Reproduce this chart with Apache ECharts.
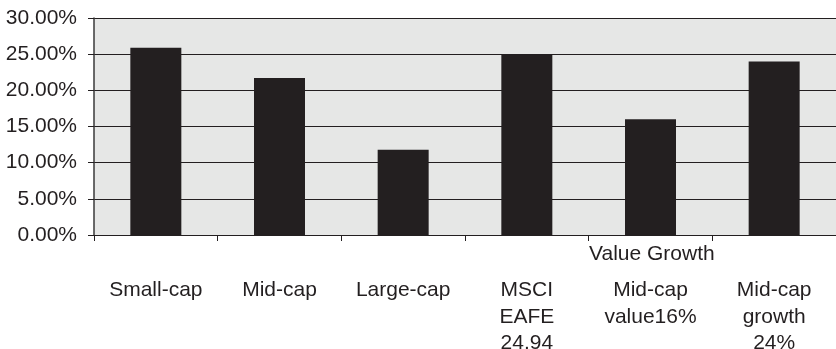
<!DOCTYPE html>
<html>
<head>
<meta charset="utf-8">
<script src="https://cdn.jsdelivr.net/npm/echarts@6/dist/echarts.min.js"></script>
<style>
  html, body { margin: 0; padding: 0; background: #fff; }
  #chart-container { width: 836px; height: 349px; }
</style>
</head>
<body>
<div id="chart-container"></div>
<script>
var categories = ['Small-cap', 'Mid-cap', 'Large-cap', 'MSCI\nEAFE\n24.94', 'Mid-cap\nvalue16%', 'Mid-cap\ngrowth\n24%'];
var returns = [25.9, 21.7, 11.8, 24.94, 16.0, 24.0];
var yTicks = [0, 5, 10, 15, 20, 25, 30];
var groupLabel = 'Value Growth';

var dom = document.getElementById('chart-container');
var myChart = echarts.init(dom, null, { renderer: 'canvas' });

var fontName = '"Liberation Sans", Arial, Helvetica, sans-serif';
var option;

option = {
    animation: false,
    backgroundColor: '#ffffff',
    textStyle: { fontFamily: fontName },
    grid: {
        left: 94,
        right: 0,
        top: 18,
        bottom: 114,
        containLabel: false,
        outerBoundsMode: 'none',
        show: true,
        backgroundColor: '#e6e7e6',
        borderWidth: 0
    },
    xAxis: {
        type: 'category',
        data: categories,
        axisLine: { show: true, lineStyle: { color: '#231f20', width: 1.2 } },
        axisTick: { show: true, length: 6, lineStyle: { color: '#231f20', width: 1 } },
        axisLabel: {
            interval: 0,
            margin: 42,
            fontSize: 21,
            lineHeight: 26.5,
            color: '#231f20',
            fontFamily: fontName
        }
    },
    yAxis: {
        type: 'value',
        min: yTicks[0],
        max: yTicks[yTicks.length - 1],
        interval: 5,
        axisLine: { show: true, lineStyle: { color: '#3a3a3a', width: 1.5 } },
        axisTick: { show: true, length: 6, lineStyle: { color: '#231f20', width: 1 } },
        splitLine: { show: true, lineStyle: { color: '#231f20', width: 1.2 } },
        axisLabel: {
            margin: 17,
            fontSize: 21,
            color: '#231f20',
            fontFamily: fontName,
            formatter: function (value) {
                return value.toFixed(2) + '%';
            }
        }
    },
    graphic: [
        {
            type: 'text',
            left: 589,
            top: 244,
            style: {
                text: groupLabel,
                fontSize: 21,
                fontFamily: fontName,
                fill: '#231f20'
            }
        }
    ],
    series: [
        {
            type: 'bar',
            data: returns,
            barWidth: 51,
            itemStyle: { color: '#231f20' }
        }
    ]
};

if (option && typeof option === 'object') {
    myChart.setOption(option);
}

window.addEventListener('resize', myChart.resize);
</script>
</body>
</html>
